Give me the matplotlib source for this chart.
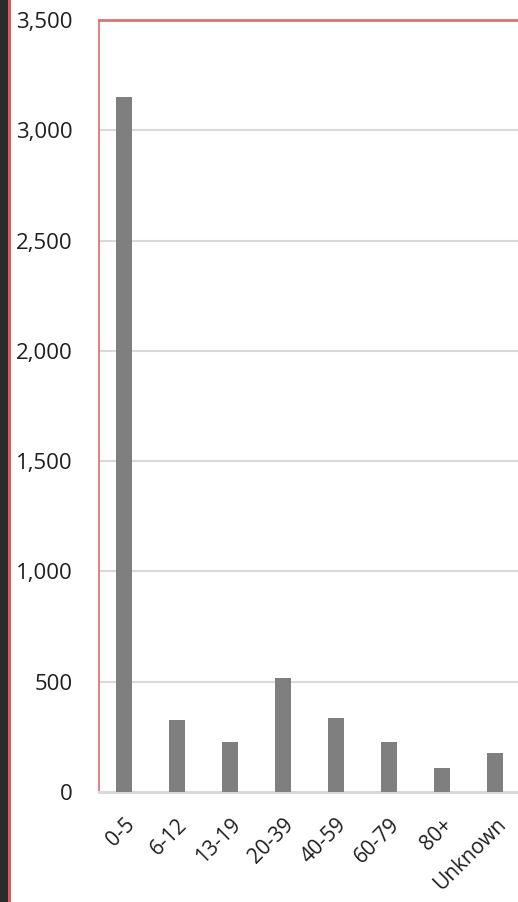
import numpy as np
import matplotlib.pyplot as plt
from matplotlib.patches import Rectangle

# cases by age group
age_groups = ["0-5", "6-12", "13-19", "20-39", "40-59", "60-79", "80+", "Unknown"]
cases = [3150, 325, 227, 518, 336, 227, 109, 177]
yticks = [0, 500, 1000, 1500, 2000, 2500, 3000, 3500]

plt.rcParams['font.family'] = ['Open Sans', 'DejaVu Sans']

fig = plt.figure(figsize=(5.18, 9.02), dpi=100)
fig.patch.set_facecolor("white")

# dark strip and red rule down the left edge
fig.patches.append(Rectangle((0, 0), 8 / 518, 1, transform=fig.transFigure,
                             facecolor="#2b2b2b", edgecolor="none", zorder=0))
fig.patches.append(Rectangle((8 / 518, 0), 2.5 / 518, 1, transform=fig.transFigure,
                             facecolor="#e0585b", edgecolor="none", zorder=0))

ax = fig.add_axes([99 / 518, 1 - 792 / 902, 1 - 99 / 518, (792 - 20) / 902])

x = np.arange(len(age_groups))
ax.bar(x, cases, width=0.3, color="#7f7f7f", zorder=3)

ax.set_xlim(-0.47, 7.43)
ax.set_ylim(0, 3500)
ax.set_yticks(yticks)
ax.set_yticklabels([f"{v:,}" for v in yticks], fontsize=16, color="#1f1f1f")
ax.set_xticks(x)
ax.set_xticklabels(age_groups, rotation=45, ha="right", rotation_mode="anchor",
                   fontsize=15, color="#1f1f1f")
ax.tick_params(axis="y", length=0, pad=19)
ax.tick_params(axis="x", length=0, pad=16)

ax.yaxis.grid(True, color="#d9d9d9", linewidth=1.5, zorder=0)
ax.set_axisbelow(True)

ax.spines["right"].set_visible(False)
ax.spines["top"].set_color("#d67476")
ax.spines["top"].set_linewidth(2)
ax.spines["left"].set_color("#e06a6c")
ax.spines["left"].set_linewidth(1.2)
ax.spines["bottom"].set_color("#d9d9d9")
ax.spines["bottom"].set_linewidth(2.2)

fig.savefig("out.png", dpi=100)
